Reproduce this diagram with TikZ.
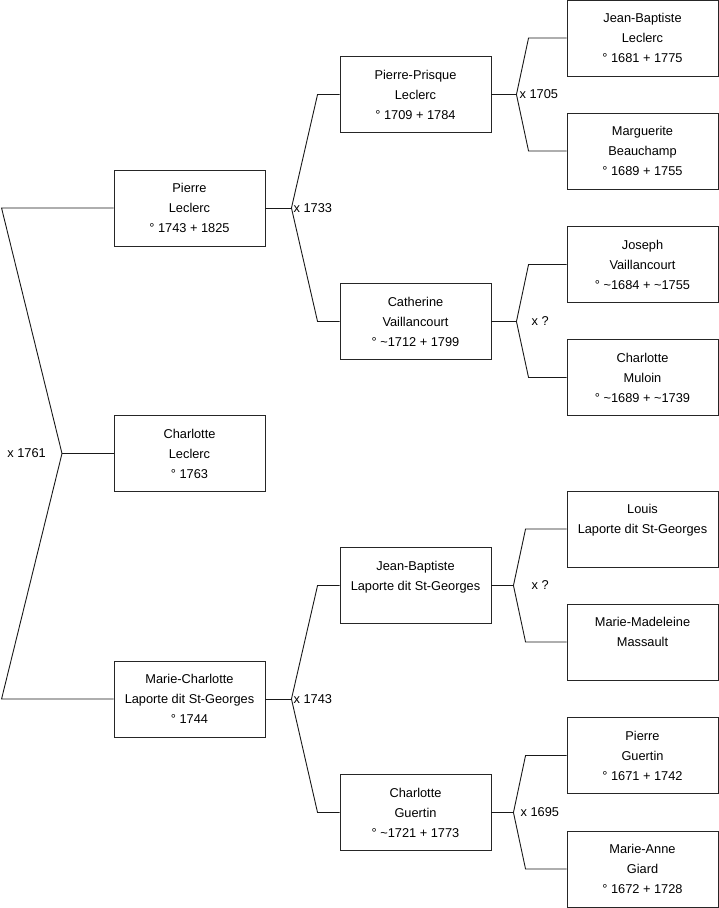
\documentclass[tikz,border=0pt]{standalone}
\usepackage{fontspec}
\setmainfont{Liberation Sans}
\usetikzlibrary{positioning,calc}

\begin{document}
\begin{tikzpicture}[x=1pt,y=-1pt,
  pers/.style={rectangle,draw=black!85,line width=0.9pt,minimum width=151pt,minimum height=76pt,align=center,inner sep=0pt,font=\fontsize{12.8}{20}\selectfont},
  link/.style={line width=0.9pt,black!90},
  mar/.style={font=\fontsize{12.8}{14}\selectfont,inner sep=0pt,anchor=west}
]
\useasboundingbox (0,0) rectangle (719,908);
\def\ca{189.5}
\def\cb{415.5}
\def\cc{642.5}
% generation 1
\node[pers] (pl) at (\ca,208) {Pierre\\Leclerc\\° 1743 + 1825};
\node[pers] (ch) at (\ca,453.5) {Charlotte\\Leclerc\\° 1763};
\node[pers] (mc) at (\ca,699) {Marie-Charlotte\\Laporte dit St-Georges\\° 1744};
% generation 2
\node[pers] (pp) at (\cb,94.5) {Pierre-Prisque\\Leclerc\\° 1709 + 1784};
\node[pers] (cv) at (\cb,321.5) {Catherine\\Vaillancourt\\° \textasciitilde1712 + 1799};
\node[pers] (jb) at (\cb,585.5) {Jean-Baptiste\\Laporte dit St-Georges\\\mbox{}};
\node[pers] (cg) at (\cb,812.5) {Charlotte\\Guertin\\° \textasciitilde1721 + 1773};
% generation 3
\node[pers] (jbl) at (\cc,38) {Jean-Baptiste\\Leclerc\\° 1681 + 1775};
\node[pers] (mb) at (\cc,151) {Marguerite\\Beauchamp\\° 1689 + 1755};
\node[pers] (jv) at (\cc,264.5) {Joseph\\Vaillancourt\\° \textasciitilde1684 + \textasciitilde1755};
\node[pers] (cm) at (\cc,377.5) {Charlotte\\Muloin\\° \textasciitilde1689 + \textasciitilde1739};
\node[pers] (ll) at (\cc,529) {Louis\\Laporte dit St-Georges\\\mbox{}};
\node[pers] (mm) at (\cc,642) {Marie-Madeleine\\Massault\\\mbox{}};
\node[pers] (pg) at (\cc,755.5) {Pierre\\Guertin\\° 1671 + 1742};
\node[pers] (ag) at (\cc,869) {Marie-Anne\\Giard\\° 1672 + 1728};

% parents of each child
\foreach \k/\f/\m/\a/\b/\dx/\lab in {pl/pp/cv/26/22/2/{x 1733},mc/jb/cg/26/22/2/{x 1743},
  pp/jbl/mb/25/38/3/{x 1705},cv/jv/cm/25/38/15/{x ?},jb/ll/mm/22/41/18/{x ?},cg/pg/ag/22/41/7/{x 1695}}{
  \draw[link] (\k.east) -- ++(\a,0) coordinate (j-\k);
  \draw[link] (\f.west) -- ++(-\b,0) -- (j-\k) -- ($(\m.west)+(-\b,0)$) -- (\m.west);
  \node[mar] (m-\k) at ([xshift=\dx]j-\k) {\lab};
}

% the couple of the root
\coordinate (j-ch) at (62,453.5);
\draw[link] (pl.west) -- ++(-112,0) -- (j-ch) -- ($(mc.west)+(-112,0)$) -- (mc.west);
\draw[link] (j-ch) -- (ch.west);
\node[mar,anchor=east] (m-ch) at ([xshift=-16]j-ch) {x 1761};
\end{tikzpicture}
\end{document}
